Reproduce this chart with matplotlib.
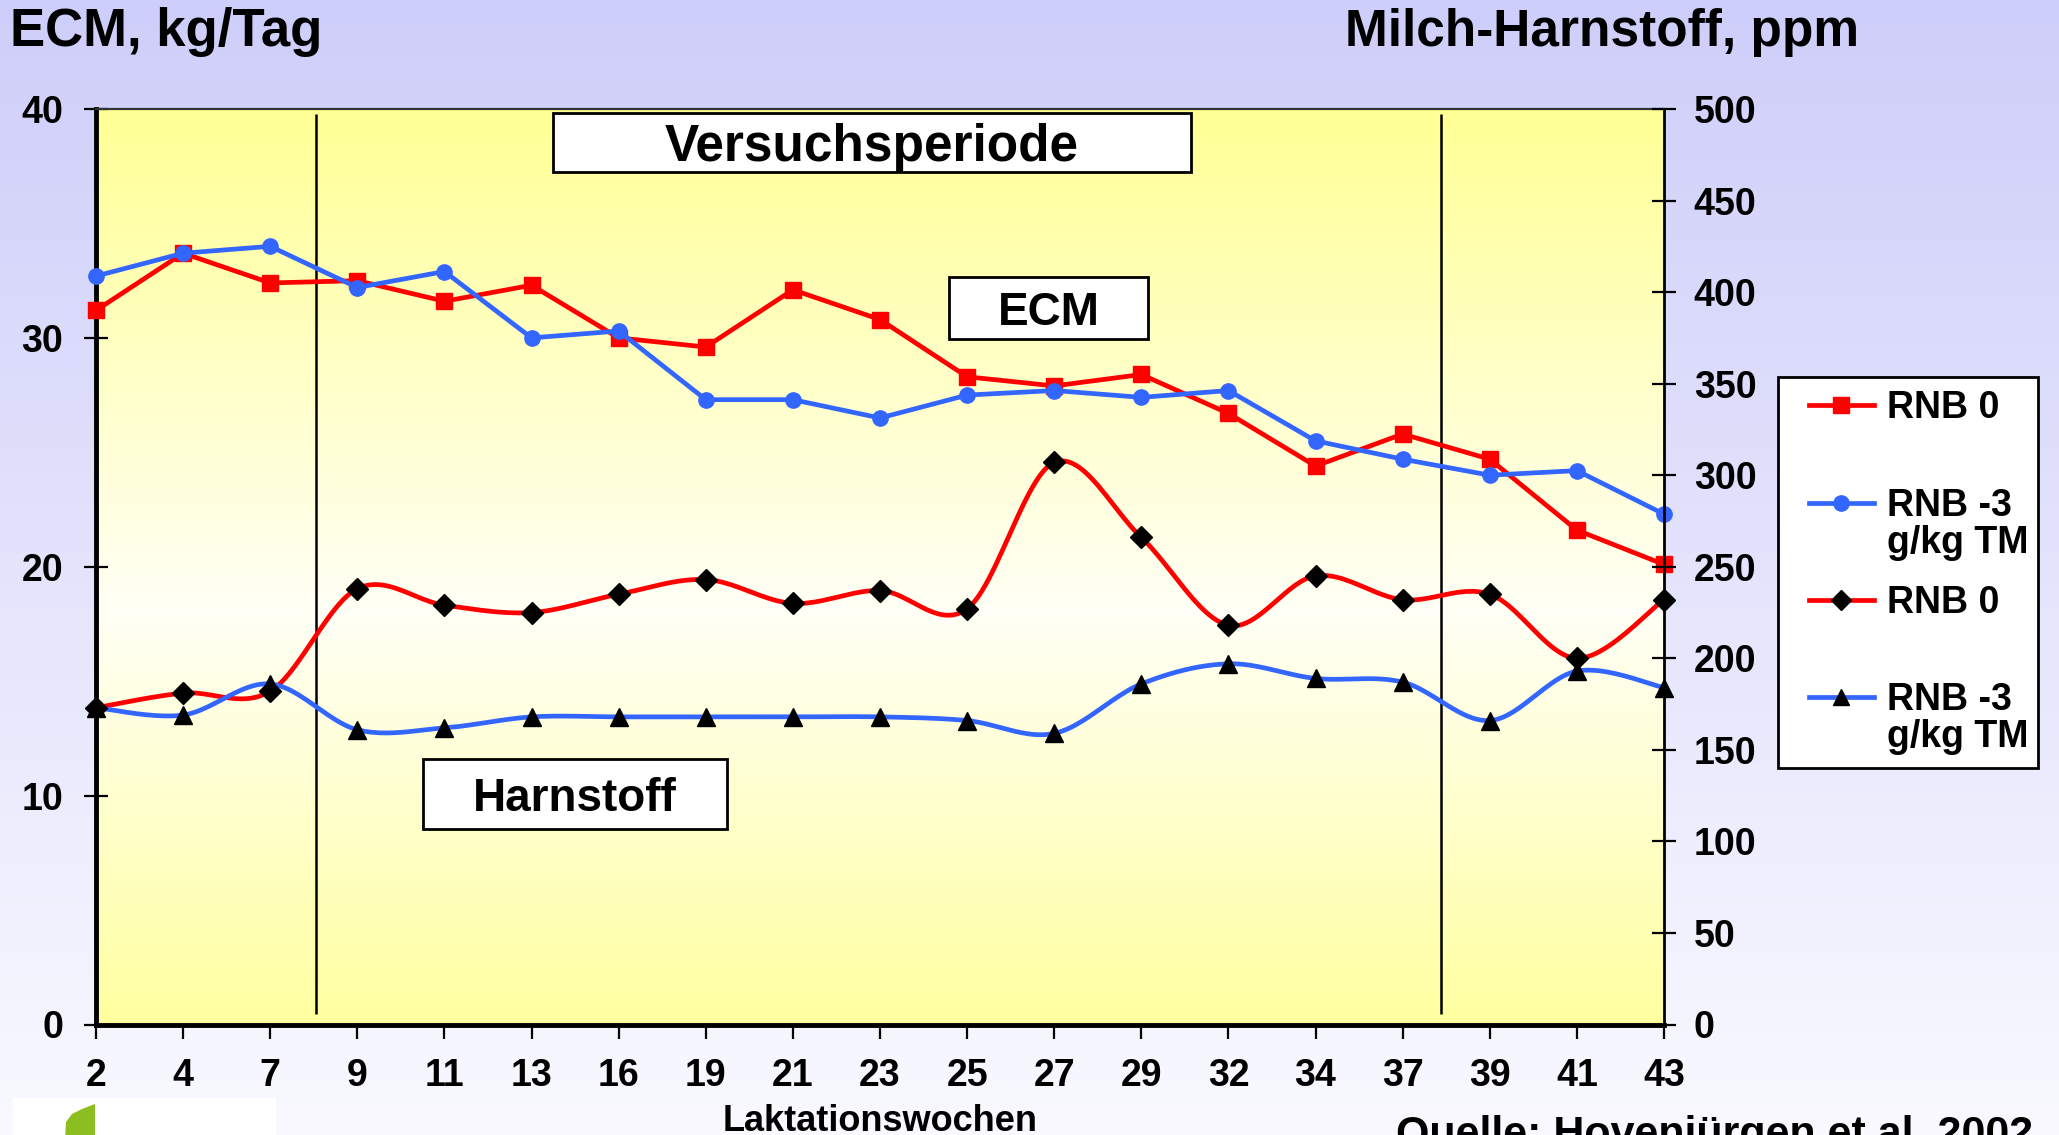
import numpy as np
import matplotlib
matplotlib.use("Agg")
import matplotlib.pyplot as plt
from matplotlib import font_manager
from matplotlib.patches import Rectangle, Polygon
from matplotlib.lines import Line2D

# ---------------- data ----------------
weeks = ["2", "4", "7", "9", "11", "13", "16", "19", "21", "23",
         "25", "27", "29", "32", "34", "37", "39", "41", "43"]
ecm_rnb0 = [31.2, 33.7, 32.4, 32.5, 31.6, 32.3, 30.0, 29.6, 32.1, 30.8,
            28.3, 27.9, 28.4, 26.7, 24.4, 25.8, 24.7, 21.6, 20.1]
ecm_rnb3 = [32.7, 33.7, 34.0, 32.2, 32.9, 30.0, 30.3, 27.3, 27.3, 26.5,
            27.5, 27.7, 27.4, 27.7, 25.5, 24.7, 24.0, 24.2, 22.3]
urea_rnb0 = [173, 181, 182, 238, 229, 225, 235, 243, 230, 237,
             227, 307, 266, 218, 245, 232, 235, 200, 232]
urea_rnb3 = [173, 169, 186, 161, 162, 168, 168, 168, 168, 168,
             166, 159, 186, 197, 189, 187, 166, 193, 184]
ecm_ticks = [0, 10, 20, 30, 40]
urea_ticks = list(range(0, 501, 50))
legend_labels = ["RNB 0", "RNB -3\ng/kg TM", "RNB 0", "RNB -3\ng/kg TM"]

RED = "#FF0000"
BLUE = "#3366FF"


def has_font(name):
    try:
        font_manager.findfont(font_manager.FontProperties(family=name),
                              fallback_to_default=False)
        return True
    except Exception:
        return False


MAIN = "Liberation Sans" if has_font("Liberation Sans") else "DejaVu Sans"

plt.rcParams["font.family"] = [MAIN, "DejaVu Sans"]
plt.rcParams["font.weight"] = "bold"


def smooth(xv, yv, n=24):
    """Catmull-Rom rendering of a line (like Excel's smoothed line)."""
    pts = np.column_stack([xv, yv]).astype(float)
    P = np.vstack([pts[0], pts, pts[-1]])
    out = []
    t = np.linspace(0, 1, n, endpoint=False)[:, None]
    for i in range(1, len(P) - 2):
        p0, p1, p2, p3 = P[i - 1], P[i], P[i + 1], P[i + 2]
        c = 0.5 * (2 * p1 + (-p0 + p2) * t
                   + (2 * p0 - 5 * p1 + 4 * p2 - p3) * t ** 2
                   + (-p0 + 3 * p1 - 3 * p2 + p3) * t ** 3)
        out.append(c)
    out.append(pts[-1][None, :])
    c = np.vstack(out)
    return c[:, 0], c[:, 1]


W, H = 2059, 1135
fig = plt.figure(figsize=(W / 100, H / 100), dpi=100)


def fx(px):
    return px / W


def fy(py):
    return 1 - py / H


# figure background gradient (lavender -> near white)
bg = fig.add_axes([0, 0, 1, 1], zorder=-5)
tt = np.linspace(0, 1, 256)[:, None, None]
top_c = np.array([206, 206, 250]) / 255
bot_c = np.array([249, 249, 255]) / 255
grad = top_c * (1 - tt) + bot_c * tt
bg.imshow(grad, aspect="auto", extent=[0, 1, 0, 1], origin="upper")
bg.set_xlim(0, 1)
bg.set_ylim(0, 1)
bg.axis("off")

# main axes
ax = fig.add_axes([fx(96), fy(1024.5), fx(1664) - fx(96), fy(109) - fy(1024.5)])
ax.set_facecolor("none")
x = np.arange(len(weeks))

# plot area gradient (yellow - white - yellow)
s = np.linspace(0, 1, 300)
yel_top = np.array([255, 255, 148]) / 255
white = np.array([255, 255, 246]) / 255
yel_bot = np.array([255, 255, 160]) / 255
rows = []
for v in s:
    if v < 0.55:
        a = v / 0.55
        rows.append(yel_top * (1 - a) + white * a)
    else:
        a = (v - 0.55) / 0.45
        rows.append(white * (1 - a) + yel_bot * a)
pgrad = np.array(rows)[:, None, :]
ax.imshow(pgrad, aspect="auto", extent=[0, len(weeks) - 1, 0, 40],
          origin="upper", zorder=0)

ax.plot(x, ecm_rnb0, color=RED, lw=3.4, marker="s", ms=11, mfc=RED, mec=RED,
        clip_on=False, zorder=4)
ax.plot(x, ecm_rnb3, color=BLUE, lw=3.4, marker="o", ms=11, mfc=BLUE, mec=BLUE,
        clip_on=False, zorder=4)

ax.vlines([2.52, 15.44], 0.45, 39.8, colors="black", lw=1.8, zorder=3)

ax.set_xlim(0, len(weeks) - 1)
ax.set_ylim(0, 40)
ax.set_xticks(x)
ax.set_xticklabels(weeks, fontsize=27)
ax.set_yticks(ecm_ticks)
ax.set_yticklabels([str(v) for v in ecm_ticks], fontsize=27)
ax.tick_params(axis="x", direction="out", length=10, width=1.6, pad=14,
               colors="black")
ax.tick_params(axis="y", direction="inout", length=17, width=1.6, pad=15)
ax.spines["left"].set_linewidth(3.5)
ax.spines["bottom"].set_linewidth(3.5)
ax.spines["top"].set_linewidth(1.6)
ax.spines["top"].set_color("#333333")
ax.spines["right"].set_visible(False)

# right axis: urea
ax2 = ax.twinx()
ax2.set_facecolor("none")
xs, ys = smooth(x, urea_rnb0)
ax2.plot(xs, ys, color=RED, lw=3.4, zorder=4, clip_on=False)
ax2.plot(x, urea_rnb0, ls="none", marker="D", ms=11, mfc="black", mec="black",
         clip_on=False, zorder=5)
xs, ys = smooth(x, urea_rnb3)
ax2.plot(xs, ys, color=BLUE, lw=3.4, zorder=4, clip_on=False)
ax2.plot(x, urea_rnb3, ls="none", marker="^", ms=13, mfc="black", mec="black",
         clip_on=False, zorder=5)
ax2.set_ylim(0, 500)
ax2.set_xlim(0, len(weeks) - 1)
ax2.set_yticks(urea_ticks)
ax2.set_yticklabels([str(v) for v in urea_ticks], fontsize=27)
ax2.tick_params(axis="y", direction="inout", length=17, width=1.6, pad=13)
for sp in ["left", "top", "bottom"]:
    ax2.spines[sp].set_visible(False)
ax2.spines["right"].set_linewidth(2)

# titles
fig.text(fx(10), fy(46), "ECM, kg/Tag", fontsize=38,
         fontweight="bold", ha="left", va="baseline")
fig.text(fx(1345), fy(46), "Milch-Harnstoff, ppm", fontsize=37,
         fontweight="bold", ha="left", va="baseline")
fig.text(fx(880), fy(1131), "Laktationswochen", fontsize=26, ha="center",
         va="baseline", fontweight="bold")
fig.text(fx(1396), fy(1146), "Quelle: Hovenjürgen et al. 2002", fontsize=31,
         ha="left", va="baseline", fontweight="bold")


# annotation boxes
def box(x0, y0, x1, y1, text, size):
    r = Rectangle((fx(x0), fy(y1)), fx(x1) - fx(x0), fy(y0) - fy(y1),
                  transform=fig.transFigure, facecolor="white",
                  edgecolor="black", lw=2, zorder=6)
    fig.add_artist(r)
    fig.text(fx((x0 + x1) / 2), fy((y0 + y1) / 2), text, fontsize=size,
             ha="center", va="center_baseline", fontweight="bold", zorder=7)


box(553, 113, 1191, 172, "Versuchsperiode", 37)
box(949, 277, 1148, 339, "ECM", 33)
box(423, 759, 727, 829, "Harnstoff", 33)

# legend (drawn manually)
leg = Rectangle((fx(1778), fy(768)), fx(2038) - fx(1778), fy(377) - fy(768),
                transform=fig.transFigure, facecolor="white",
                edgecolor="black", lw=2, zorder=6)
fig.add_artist(leg)
styles = [(RED, "s", RED, 11), (BLUE, "o", BLUE, 11),
          (RED, "D", "black", 10), (BLUE, "^", "black", 12)]
ys_leg = [405, 503, 600, 697]
for (lc, mk, mc, ms), yy, lab in zip(styles, ys_leg, legend_labels):
    ln = Line2D([fx(1809), fx(1874)], [fy(yy), fy(yy)], color=lc, lw=3.4,
                transform=fig.transFigure, zorder=7)
    fig.add_artist(ln)
    mkl = Line2D([fx(1841)], [fy(yy)], marker=mk, ms=ms, mfc=mc, mec=mc,
                 ls="none", transform=fig.transFigure, zorder=8)
    fig.add_artist(mkl)
    for k, part in enumerate(lab.split("\n")):
        fig.text(fx(1887), fy(yy + 13 + 37 * k), part, fontsize=27,
                 ha="left", va="baseline", fontweight="bold", zorder=8)

# logo (decorative leaf, cut off at bottom)
fig.add_artist(Rectangle((fx(13), fy(1140)), fx(276) - fx(13), fy(1098) - fy(1140),
                         transform=fig.transFigure, facecolor="white",
                         edgecolor="none", zorder=6))
leaf = Polygon([(fx(65), fy(1140)), (fx(66), fy(1122)), (fx(72), fy(1114)),
                (fx(82), fy(1109)), (fx(95), fy(1104)), (fx(95), fy(1140))],
               closed=True, transform=fig.transFigure, facecolor="#8DBE1F",
               edgecolor="none", zorder=7)
fig.add_artist(leaf)

fig.savefig("out.png", dpi=100)
